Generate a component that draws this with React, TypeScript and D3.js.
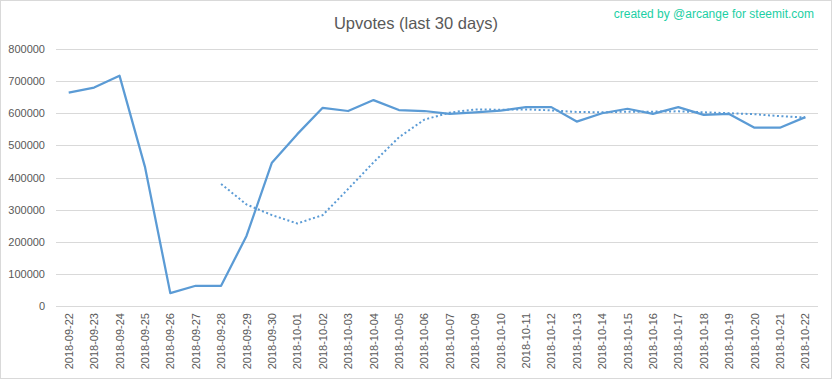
import React from "react";
import * as d3 from "d3";

const categories: string[] = [
  "2018-09-22","2018-09-23","2018-09-24","2018-09-25","2018-09-26","2018-09-27","2018-09-28","2018-09-29","2018-09-30",
  "2018-10-01","2018-10-02","2018-10-03","2018-10-04","2018-10-05","2018-10-06","2018-10-07",
  "2018-10-09","2018-10-10","2018-10-11","2018-10-12","2018-10-13","2018-10-14","2018-10-15","2018-10-16",
  "2018-10-17","2018-10-18","2018-10-19","2018-10-20","2018-10-21","2018-10-22",
];

const upvotes: number[] = [
  664000, 680000, 717000, 434000, 40000, 63000, 63000, 218000, 446000,
  535000, 617000, 607000, 641000, 610000, 607000, 598000,
  603000, 608000, 619000, 619000, 574000, 600000, 614000, 598000,
  619000, 595000, 598000, 555000, 555000, 588000,
];

const trend: (number | null)[] = [
  null, null, null, null, null, null, 380000, 316000, 283000,
  257000, 283000, 364000, 447000, 525000, 580000, 602000,
  612000, 611000, 612000, 609000, 604000, 603000, 605000, 605000,
  606000, 603000, 600000, 597000, 591000, 587000,
];

const yTicks: number[] = [0, 100000, 200000, 300000, 400000, 500000, 600000, 700000, 800000];

const W = 832;
const H = 379;
const FONT = "'Liberation Sans', Arial, sans-serif";

export default function App() {
  const x = d3.scaleBand<string>().domain(categories).range([56, 818]);
  const y = d3.scaleLinear().domain([0, 800000]).range([306, 49]);
  const cx = (c: string) => (x(c) as number) + x.bandwidth() / 2;

  const line = d3
    .line<number>()
    .x((_, i) => cx(categories[i]))
    .y((d) => y(d));

  const trendLine = d3
    .line<number | null>()
    .defined((d) => d !== null)
    .x((_, i) => cx(categories[i]))
    .y((d) => y(d as number));

  return (
    <svg
      width={W}
      height={H}
      style={{ position: "absolute", left: 0, top: 0, background: "#fff" }}
      fontFamily={FONT}
    >
      <rect x={0.5} y={0.5} width={W - 1} height={H - 1} fill="#fff" stroke="#d9d9d9" />
      <text x={416} y={28.5} textAnchor="middle" fontSize={16.5} fill="#595959">
        Upvotes (last 30 days)
      </text>
      <text x={814} y={18} textAnchor="end" fontSize={12} fill="#1ccfa4">
        created by @arcange for steemit.com
      </text>
      {yTicks.map((t) => (
        <g key={t}>
          <line x1={56} x2={818} y1={Math.round(y(t)) + 0.5} y2={Math.round(y(t)) + 0.5} stroke="#d9d9d9" strokeWidth={1} />
          <text x={45} y={y(t) + 4} textAnchor="end" fontSize={11} fill="#595959">
            {t}
          </text>
        </g>
      ))}
      {categories.map((c) => (
        <text
          key={c}
          transform={`translate(${cx(c) + 4},313) rotate(-90)`}
          textAnchor="end"
          fontSize={11}
          fill="#595959"
        >
          {c}
        </text>
      ))}
      <path d={trendLine(trend) || ""} fill="none" stroke="#5b9bd5" strokeWidth={2} strokeDasharray="2 2.5" />
      <path d={line(upvotes) || ""} fill="none" stroke="#5b9bd5" strokeWidth={2.25} strokeLinejoin="round" />
    </svg>
  );
}
